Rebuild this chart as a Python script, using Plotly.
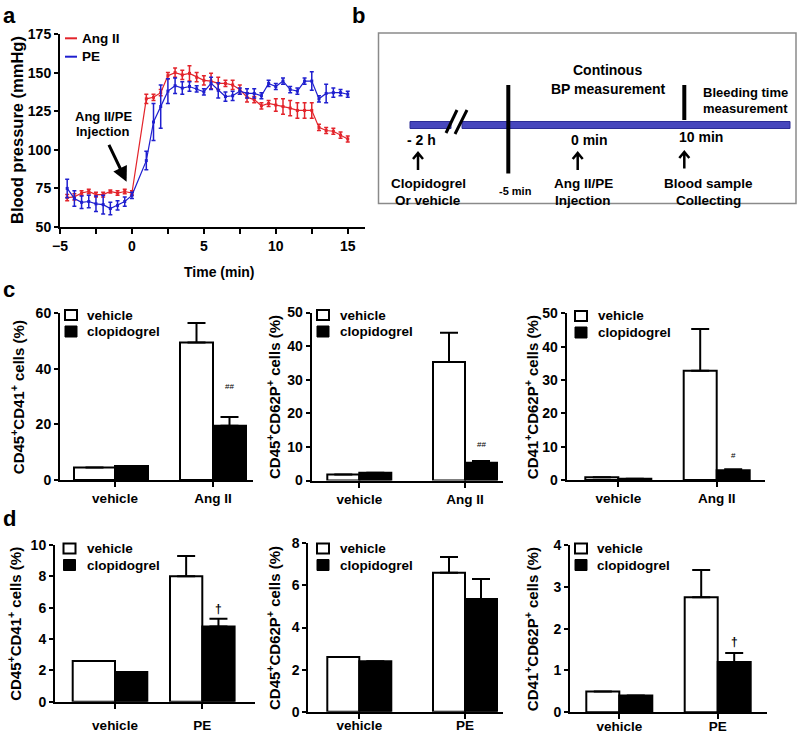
import plotly.graph_objects as go

W, H = 798, 734

# ---- panel a: blood pressure time course (mean, SEM) ----
time_min = [-4.5, -4, -3.5, -3, -2.5, -2, -1.5, -1, -0.5, 0,
            1, 1.5, 2, 2.5, 3, 3.5, 4, 4.5, 5, 5.5, 6, 6.5, 7, 7.5, 8, 8.5,
            9, 9.5, 10, 10.5, 11, 11.5, 12, 12.5, 13, 13.5, 14, 14.5, 15]
angii_bp = [69, 69.5, 72, 73, 71, 71, 73, 72, 73, 72,
            133, 134, 137, 148, 150, 148.5, 149.5, 147, 145, 144.5, 143, 143, 142, 139, 134, 132.5,
            128.5, 130, 129, 128, 127, 125.5, 125.5, 125.5, 114.5, 112.5, 112, 109.5, 107]
angii_sem = [2, 2, 1.5, 1.5, 1.5, 1.5, 1, 1.5, 1.5, 1.5,
             3, 2, 2, 2, 3, 3, 5, 3, 3, 5, 4, 2, 3, 3, 3, 2,
             2, 2, 4, 5, 5, 5, 5, 5, 2, 2, 2, 2, 2]
pe_bp = [75, 68.5, 66, 66.5, 65, 64.5, 62, 64, 66.5, 70.5,
         93, 118, 128, 138, 141.5, 140, 141, 139.5, 137.5, 143, 138.5, 134.5, 135, 138, 136.5, 136.5,
         135, 143, 141, 144.5, 139, 138, 144.5, 144.5, 133, 136.5, 137, 137, 136]
pe_sem = [6, 5, 4, 4, 5, 6, 4, 3, 3, 2,
          6, 12, 14, 8, 5, 4, 3, 2, 2, 4, 5, 3, 3, 2, 3, 3,
          2, 2, 2, 2, 2, 2, 2, 6, 2, 6, 3, 2, 2]

# ---- panels c / d: bar data (mean, SEM) ----
cats_c = ["vehicle", "Ang II"]
cats_d = ["vehicle", "PE"]

c1_vehicle, c1_vehicle_sem = [4.5, 49.5], [None, 7.0]
c1_clopi, c1_clopi_sem = [5.0, 19.5], [None, 3.2]
c2_vehicle, c2_vehicle_sem = [1.8, 35.3], [None, 8.7]
c2_clopi, c2_clopi_sem = [2.3, 5.3], [None, 0.5]
c3_vehicle, c3_vehicle_sem = [0.8, 32.8], [None, 12.5]
c3_clopi, c3_clopi_sem = [0.4, 2.9], [None, 0.3]
d1_vehicle, d1_vehicle_sem = [2.6, 8.0], [None, 1.3]
d1_clopi, d1_clopi_sem = [1.9, 4.8], [None, 0.5]
d2_vehicle, d2_vehicle_sem = [2.6, 6.6], [None, 0.75]
d2_clopi, d2_clopi_sem = [2.4, 5.35], [None, 0.95]
d3_vehicle, d3_vehicle_sem = [0.5, 2.75], [None, 0.65]
d3_clopi, d3_clopi_sem = [0.4, 1.2], [None, 0.22]

FONT = "Liberation Sans, Arial, Helvetica, sans-serif"
RED = "#e3242b"
BLUE = "#1f1fcf"


def px(x):
    return x / W


def py(y):
    return 1 - y / H


def txt(x, y, s, size=14, xanchor="center", angle=0, weight="bold"):
    return dict(x=px(x), y=py(y), xref="paper", yref="paper", text=s, showarrow=False,
                xanchor=xanchor, yanchor="middle", textangle=angle,
                font=dict(family=FONT, size=size, color="black", weight=weight))


tickfont = dict(family=FONT, size=14, color="black", weight="bold")
axis_style = dict(showline=True, linecolor="black", linewidth=2, ticks="outside", ticklen=5,
                  tickwidth=2, tickcolor="black", showgrid=False, zeroline=False, tickfont=tickfont,
                  automargin=False)

fig = go.Figure()

# panel a
fig.add_trace(go.Scatter(x=time_min, y=angii_bp, mode="lines+markers", name="Ang II",
                         line=dict(color=RED, width=1.2),
                         marker=dict(symbol="square", size=3, color=RED),
                         error_y=dict(type="data", array=angii_sem, color=RED, thickness=1.5, width=2),
                         xaxis="x", yaxis="y"))
fig.add_trace(go.Scatter(x=time_min, y=pe_bp, mode="lines+markers", name="PE",
                         line=dict(color=BLUE, width=1.2),
                         marker=dict(symbol="square", size=3, color=BLUE),
                         error_y=dict(type="data", array=pe_sem, color=BLUE, thickness=1.5, width=2),
                         xaxis="x", yaxis="y"))

# bar panels: (data, geometry)
panels = [
    dict(cats=cats_c, veh=c1_vehicle, veh_e=c1_vehicle_sem, clo=c1_clopi, clo_e=c1_clopi_sem,
         ymax=60, dtick=20, x0=60, x1=253.3, y0=313.3, y1=480, c0=115, c1=213,
         bw=33, bw_first=41, cap=9, title="CD45<sup>+</sup>CD41<sup>+</sup> cells (%)", tx=17,
         leg_x=65, leg_x_txt=85, leg_y=315, sig="##", sig_y=33.6, standoff=0),
    dict(cats=cats_c, veh=c2_vehicle, veh_e=c2_vehicle_sem, clo=c2_clopi, clo_e=c2_clopi_sem,
         ymax=50, dtick=10, x0=311.7, x1=503.3, y0=312.5, y1=480.5, c0=359.3, c1=465,
         bw=32, bw_first=32, cap=9, title="CD45<sup>+</sup>CD62P<sup>+</sup> cells (%)", tx=273,
         leg_x=317, leg_x_txt=338, leg_y=315, sig="##", sig_y=10.6, standoff=0),
    dict(cats=cats_c, veh=c3_vehicle, veh_e=c3_vehicle_sem, clo=c3_clopi, clo_e=c3_clopi_sem,
         ymax=50, dtick=10, x0=566.7, x1=765, y0=313.3, y1=480, c0=618.3, c1=716.7,
         bw=33, bw_first=33, cap=9, title="CD41<sup>+</sup>CD62P<sup>+</sup> cells (%)", tx=531,
         leg_x=575, leg_x_txt=596, leg_y=316, sig="#", sig_y=7.5, standoff=0),
    dict(cats=cats_d, veh=d1_vehicle, veh_e=d1_vehicle_sem, clo=d1_clopi, clo_e=d1_clopi_sem,
         ymax=10, dtick=2, x0=55, x1=255, y0=545, y1=701.7, c0=115, c1=202.3,
         bw=32.3, bw_first=42.3, cap=9, title="CD45<sup>+</sup>CD41<sup>+</sup> cells (%)", tx=15,
         leg_x=63.5, leg_x_txt=85, leg_y=548.5, sig="†", sig_y=5.9, standoff=5),
    dict(cats=cats_d, veh=d2_vehicle, veh_e=d2_vehicle_sem, clo=d2_clopi, clo_e=d2_clopi_sem,
         ymax=8, dtick=2, x0=308.3, x1=503.3, y0=543.3, y1=711.7, c0=359.3, c1=465,
         bw=32, bw_first=32, cap=9, title="CD45<sup>+</sup>CD62P<sup>+</sup> cells (%)", tx=273,
         leg_x=317, leg_x_txt=338, leg_y=548.5, sig=None, sig_y=None, standoff=-5),
    dict(cats=cats_d, veh=d3_vehicle, veh_e=d3_vehicle_sem, clo=d3_clopi, clo_e=d3_clopi_sem,
         ymax=4, dtick=1, x0=570, x1=767.3, y0=545, y1=712.3, c0=619.3, c1=717.7,
         bw=33, bw_first=33, cap=9, title="CD41<sup>+</sup>CD62P<sup>+</sup> cells (%)", tx=531,
         leg_x=575, leg_x_txt=595, leg_y=548.5, sig="†", sig_y=1.69, standoff=-5),
]

annotations = []
shapes = []
layout_axes = {}

for i, p in enumerate(panels, start=2):
    span = p["c1"] - p["c0"]
    w = p["bw"] / span
    w_veh = [p["bw_first"] / span, w]
    xa, ya = f"x{i}", f"y{i}"

    def err(vals):
        return dict(type="data", symmetric=False, array=vals,
                    arrayminus=[None if v is None else 0 for v in vals],
                    color="black", thickness=2, width=p["cap"])

    fig.add_trace(go.Bar(x=p["cats"], y=p["veh"], width=w_veh, offset=[-v for v in w_veh],
                         marker=dict(color="white", line=dict(color="black", width=2)),
                         error_y=err(p["veh_e"]), xaxis=xa, yaxis=ya, name="vehicle"))
    fig.add_trace(go.Bar(x=p["cats"], y=p["clo"], width=w, offset=0,
                         marker=dict(color="black", line=dict(color="black", width=2)),
                         error_y=err(p["clo_e"]), xaxis=xa, yaxis=ya, name="clopidogrel"))

    lo = (p["x0"] - p["c0"]) / span
    hi = (p["x1"] - p["c0"]) / span
    layout_axes[f"xaxis{i}"] = dict(axis_style, domain=[px(p["x0"]), px(p["x1"])], range=[lo, hi],
                                     type="category", anchor=ya, ticklabelstandoff=p["standoff"],
                                     tickfont=dict(tickfont, size=13.5))
    layout_axes[f"yaxis{i}"] = dict(axis_style, domain=[py(p["y1"]), py(p["y0"])],
                                     range=[0, p["ymax"]], dtick=p["dtick"], anchor=xa, ticklen=4)

    annotations.append(txt(p["tx"], (p["y0"] + p["y1"]) / 2 + 0.5, p["title"], size=15, angle=-90))

    # legend swatches
    ly = p["leg_y"]
    shapes.append(dict(type="rect", xref="paper", yref="paper", x0=px(p["leg_x"]), x1=px(p["leg_x"] + 12),
                       y0=py(ly - 5), y1=py(ly + 5), fillcolor="white", line=dict(color="black", width=2)))
    shapes.append(dict(type="rect", xref="paper", yref="paper", x0=px(p["leg_x"]), x1=px(p["leg_x"] + 12),
                       y0=py(ly + 11), y1=py(ly + 22), fillcolor="black", line=dict(color="black", width=1)))
    annotations.append(txt(p["leg_x_txt"], ly, "vehicle", size=13.5, xanchor="left"))
    annotations.append(txt(p["leg_x_txt"], ly + 16.5, "clopidogrel", size=13.5, xanchor="left"))

    if p["sig"]:
        dagger = p["sig"] == "†"
        annotations.append(dict(x=1 + w / 2, y=p["sig_y"], xref=xa, yref=ya, text=p["sig"],
                                showarrow=False, xanchor="center", yanchor="middle",
                                font=dict(family=FONT, size=12 if dagger else 8, color="black",
                                          weight="bold" if dagger else "normal")))

# panel a axes
layout_axes["xaxis"] = dict(axis_style, domain=[px(60), px(365)], range=[-5, 16.2], anchor="y",
                            tickvals=[-5, 0, 5, 10, 15],
                            minor=dict(tickvals=[-2.5, 2.5, 7.5, 12.5], ticks="outside", ticklen=5,
                                       tickwidth=2, tickcolor="black"))
layout_axes["yaxis"] = dict(axis_style, domain=[py(227), py(34)], range=[50, 175],
                            tickvals=[50, 75, 100, 125, 150, 175], anchor="x", ticklen=4)

annotations += [
    txt(17, 130, "Blood pressure (mmHg)", size=16.5, angle=-90),
    txt(219, 271.5, "Time (min)", size=14),
    txt(80, 38.3, "Ang II", size=13.5, xanchor="left"),
    txt(80, 56.7, "PE", size=13.5, xanchor="left"),
    txt(103, 116.7, "Ang II/PE", size=13),
    txt(103, 131.7, "Injection", size=13),
    dict(x=-0.37, y=79.3, xref="x", yref="y", ax=-18.4, ay=-38.4, text="", showarrow=True,
         arrowhead=2, arrowsize=1, arrowwidth=3, arrowcolor="black"),
]
shapes += [
    dict(type="line", xref="paper", yref="paper", x0=px(65), x1=px(77), y0=py(38.3), y1=py(38.3),
         line=dict(color=RED, width=2)),
    dict(type="line", xref="paper", yref="paper", x0=px(65), x1=px(77), y0=py(56.7), y1=py(56.7),
         line=dict(color=BLUE, width=2)),
]

# panel letters
annotations += [txt(9, 15, "a", size=22), txt(358, 16, "b", size=22),
                txt(9, 290, "c", size=22), txt(9, 518, "d", size=22)]


# ---- panel b: protocol schematic ----
def seg(x0, y0, x1, y1, width=3, color="black"):
    return dict(type="line", xref="paper", yref="paper", x0=px(x0), y0=py(y0), x1=px(x1), y1=py(y1),
                line=dict(color=color, width=width))


def up_arrow(x, y_head, y_tail):
    path = (f"M {px(x)},{py(y_tail)} L {px(x)},{py(y_head)} "
            f"M {px(x - 5)},{py(y_head + 6)} L {px(x)},{py(y_head)} L {px(x + 5)},{py(y_head + 6)}")
    return dict(type="path", xref="paper", yref="paper", path=path, line=dict(color="black", width=2.5))


shapes += [
    dict(type="rect", xref="paper", yref="paper", x0=px(378.5), x1=px(796), y0=py(203.5), y1=py(33),
         line=dict(color="#8a8a8a", width=1.5)),
    dict(type="rect", xref="paper", yref="paper", x0=px(410), x1=px(451), y0=py(128.5), y1=py(121.5),
         fillcolor="#4747bd", line=dict(color="#2c2c96", width=1)),
    dict(type="rect", xref="paper", yref="paper", x0=px(462), x1=px(790), y0=py(128.5), y1=py(121.5),
         fillcolor="#4747bd", line=dict(color="#2c2c96", width=1)),
    seg(446, 133, 457, 110), seg(455, 134, 467, 110),
    seg(508.3, 85, 508.3, 173.5, width=4),
    seg(684.3, 85, 684.3, 120, width=4),
    up_arrow(418, 153, 170), up_arrow(577.7, 153, 170), up_arrow(684.3, 152, 168.5),
]
annotations += [
    txt(607, 70, "Continous", size=14),
    txt(608, 88.5, "BP measurement", size=14),
    txt(790, 92.7, "Bleeding time", size=13, xanchor="right"),
    txt(790, 108.5, "measurement", size=13, xanchor="right"),
    txt(421, 140.5, "- 2 h", size=14),
    txt(428.5, 184, "Clopidogrel", size=13.5),
    txt(428.5, 200, "Or vehicle", size=13.5),
    txt(515, 191.5, "-5 min", size=11),
    txt(589, 140, "0 min", size=14),
    txt(583, 184, "Ang II/PE", size=13.5),
    txt(583, 200, "Injection", size=13.5),
    txt(701, 137.5, "10 min", size=14),
    txt(708.5, 184, "Blood sample", size=13.5),
    txt(708.5, 200, "Collecting", size=13.5),
]

fig.update_layout(width=W, height=H, margin=dict(l=0, r=0, t=0, b=0, autoexpand=False), showlegend=False,
                  plot_bgcolor="white", paper_bgcolor="white", barmode="overlay",
                  font=dict(family=FONT, color="black"),
                  annotations=annotations, shapes=shapes, **layout_axes)

fig.write_html("out.html", config={"displayModeBar": False},
               post_script="document.body.style.margin='0';")
